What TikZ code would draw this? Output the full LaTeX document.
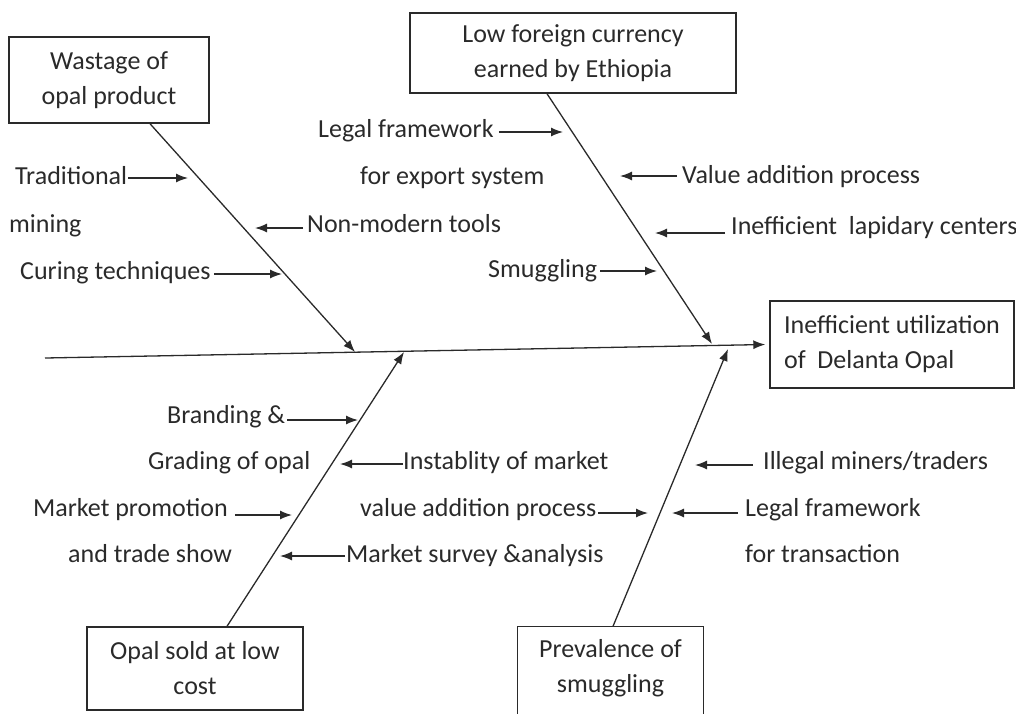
\documentclass[tikz,border=0pt]{standalone}
\usepackage{fontspec}
\setmainfont{Carlito}
\usetikzlibrary{arrows.meta,calc}
\definecolor{ink}{HTML}{2A2A2A}
\begin{document}
\begin{tikzpicture}[x=1pt,y=-1pt,
  lbl/.style={font=\fontsize{26}{30}\selectfont, text=ink, inner sep=0pt, anchor=west, text height=17pt, text depth=5pt},
  box/.style={draw=ink, line width=1.4pt, font=\fontsize{26}{35}\selectfont, text=ink, align=center, inner sep=0pt},
  boxline/.style={draw=ink, line width=1.4pt},
  arr/.style={draw=ink, line width=1.3pt, -{Latex[length=12pt,width=9pt]}},
]
\useasboundingbox (0,0) rectangle (1016,713);
% boxes
\node[box, minimum width=200pt, minimum height=86pt] (b1) at (109,80) {Wastage of\\opal product};
\node[box, minimum width=326pt, minimum height=80pt] (b2) at (573,53) {Low foreign currency\\earned by Ethiopia};
\node[box, align=left, minimum width=244pt, minimum height=87pt] (b3) at (892,344.5) {Inefficient utilization\\of~ Delanta Opal};
\node[box, minimum width=216pt, minimum height=83pt] (b4) at (195,668.5) {Opal sold at low\\cost};
\node[box, draw=none, minimum width=185pt, minimum height=83pt] (b5) at (610.5,668.5) {Prevalence of\\smuggling};
\draw[boxline] ($(b5.north west)+(0,100)$) -- (b5.north west) -- (b5.north east) -- ++(0,100);
% spine
\coordinate (s0) at (45,358);
\draw[arr] (s0) -- ([xshift=-4pt]b3.west);
% bone tips
\coordinate (k1) at (355,352);
\coordinate (k2) at (712,344);
\coordinate (k4) at (404,352);
\coordinate (k5) at (728,349);
\draw[arr] ([xshift=41pt]b1.south) -- (k1);
\draw[arr] ([xshift=-26pt]b2.south) -- (k2);
\draw[arr] ([xshift=32pt]b4.north) -- (k4);
\draw[arr] ([xshift=2.5pt]b5.north) -- (k5);
% labels
\node[lbl] (trad) at (15,178) {Traditional};
\node[lbl] (mining) at (9,226) {mining};
\node[lbl] (nonmod) at (307,226) {Non-modern tools};
\node[lbl] (curing) at (20,273) {Curing techniques};
\node[lbl] (legal1) at (318,131) {Legal framework};
\node[lbl] (export) at (360,178) {for export system};
\node[lbl] (valadd) at (682,177) {Value addition process};
\node[lbl] (lapid) at (731,228) {Inefficient\ \ lapidary centers};
\node[lbl] (smug) at (488,271) {Smuggling};
\node[lbl] (brand) at (167,417) {Branding \&};
\node[lbl] (grade) at (148,463) {Grading of opal};
\node[lbl] (instab) at (403,463) {Instablity of market};
\node[lbl] (promo) at (33,510) {Market promotion};
\node[lbl] (trade) at (68,556) {and trade show};
\node[lbl] (survey) at (346,556) {Market survey \&analysis};
\node[lbl] (valadd2) at (360,510) {value addition process};
\node[lbl] (illegal) at (763,463) {Illegal miners/traders};
\node[lbl] (legal2) at (745,510) {Legal framework};
\node[lbl] (transac) at (745,556) {for transaction};
% arrow tips
\coordinate (aTrad) at (188,178);
\coordinate (aNon) at (255,228);
\coordinate (aCur) at (282,274);
\coordinate (aLeg1) at (563,132);
\coordinate (aVal) at (620,176);
\coordinate (aLap) at (655,233);
\coordinate (aSmug) at (657,271);
\coordinate (aBrand) at (358,420);
\coordinate (aInst) at (340,464);
\coordinate (aPromo) at (292,515);
\coordinate (aSurv) at (280,556);
\coordinate (aVal2) at (648,513);
\coordinate (aIll) at (695,465);
\coordinate (aLeg2) at (672,513);
% arrows
\draw[arr] ($(aTrad -| trad.east)+(1,0)$) -- (aTrad);
\draw[arr] ($(aNon -| nonmod.west)+(-4,0)$) -- (aNon);
\draw[arr] ($(aCur -| curing.east)+(3,0)$) -- (aCur);
\draw[arr] ($(aLeg1 -| legal1.east)+(5,0)$) -- (aLeg1);
\draw[arr] ($(aVal -| valadd.west)+(-5,0)$) -- (aVal);
\draw[arr] ($(aLap -| lapid.west)+(-6,0)$) -- (aLap);
\draw[arr] ($(aSmug -| smug.east)+(3,0)$) -- (aSmug);
\draw[arr] ($(aBrand -| brand.east)+(2,0)$) -- (aBrand);
\draw[arr] ($(aInst -| instab.west)+(0,0)$) -- (aInst);
\draw[arr] ($(aPromo -| promo.east)+(7,0)$) -- (aPromo);
\draw[arr] ($(aSurv -| survey.west)+(-1,0)$) -- (aSurv);
\draw[arr] ($(aVal2 -| valadd2.east)+(2,0)$) -- (aVal2);
\draw[arr] ($(aIll -| illegal.west)+(-10,0)$) -- (aIll);
\draw[arr] ($(aLeg2 -| legal2.west)+(-7,0)$) -- (aLeg2);
\end{tikzpicture}
\end{document}
